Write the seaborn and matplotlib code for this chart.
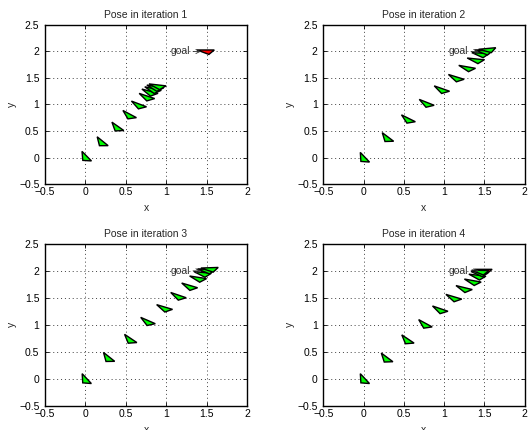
import numpy as np
import matplotlib
matplotlib.use("Agg")
import matplotlib.pyplot as plt
import seaborn as sns

# ---- data: robot poses (x, y, heading in degrees) per iteration ----
it1_x = [0.0, 0.20, 0.39, 0.54, 0.66, 0.76, 0.80, 0.84, 0.87, 0.90]
it1_y = [0.0, 0.28, 0.56, 0.79, 0.98, 1.13, 1.22, 1.27, 1.31, 1.34]
it1_th = [-57, -51, -47, -39, -30, -27, -22, -18, -14, -10]

it2_x = [0.0, 0.29, 0.55, 0.78, 0.97, 1.15, 1.29, 1.40, 1.46, 1.51, 1.55]
it2_y = [-0.02, 0.36, 0.71, 1.01, 1.27, 1.49, 1.68, 1.83, 1.94, 1.99, 2.03]
it2_th = [-58, -49, -37, -31, -28, -25, -15, -9, -5, 0, 8]

it3_x = [0.0, 0.28, 0.55, 0.77, 0.98, 1.15, 1.29, 1.40, 1.46, 1.51, 1.55]
it3_y = [-0.02, 0.38, 0.72, 1.05, 1.30, 1.52, 1.70, 1.85, 1.94, 2.00, 2.03]
it3_th = [-58, -50, -45, -33, -24, -27, -24, -13, -8, -3, 3]

it4_x = [0.0, 0.28, 0.54, 0.76, 0.95, 1.12, 1.25, 1.36, 1.42, 1.45, 1.46]
it4_y = [-0.02, 0.37, 0.71, 1.00, 1.27, 1.49, 1.66, 1.79, 1.89, 1.95, 1.98]
it4_th = [-58, -48, -45, -39, -27, -24, -20, -15, -10, -5, -2]

goal_x, goal_y, goal_th = 1.5, 2.0, 0.0

titles = ["Pose in iteration 1", "Pose in iteration 2",
          "Pose in iteration 3", "Pose in iteration 4"]
xticks = [-0.5, 0, 0.5, 1, 1.5, 2]
yticks = [-0.5, 0, 0.5, 1, 1.5, 2, 2.5]

# robot triangle shape in local frame (data units)
tri_local = np.array([[-0.12, 0.028], [0.095, 0.028], [0.028, -0.056]])

sns.set_theme(style="white")
plt.rcParams['font.family'] = ['Liberation Sans', 'DejaVu Sans']

fig = plt.figure(figsize=(5.29, 4.30), dpi=100)
positions = [
    [0.085, 0.572, 0.382, 0.370],
    [0.611, 0.572, 0.381, 0.370],
    [0.085, 0.056, 0.382, 0.377],
    [0.611, 0.056, 0.381, 0.377],
]
iters = [(it1_x, it1_y, it1_th), (it2_x, it2_y, it2_th),
         (it3_x, it3_y, it3_th), (it4_x, it4_y, it4_th)]


def triangle(ax, x, y, th, color, z):
    t = np.deg2rad(th)
    R = np.array([[np.cos(t), -np.sin(t)], [np.sin(t), np.cos(t)]])
    pts = tri_local @ R.T + np.array([x, y])
    ax.fill(pts[:, 0], pts[:, 1], facecolor=color, edgecolor='black',
            linewidth=1.0, zorder=z, joinstyle='miter')


for i, (pos, (xs, ys, ths)) in enumerate(zip(positions, iters)):
    ax = fig.add_axes(pos)
    ax.set_xlim(-0.5, 2)
    ax.set_ylim(-0.5, 2.5)
    ax.set_xticks(xticks)
    ax.set_yticks(yticks)
    ax.set_xticklabels([f"{v:g}".replace("-", "\u2212") for v in xticks])
    ax.set_yticklabels([f"{v:g}".replace("-", "\u2212") for v in yticks])
    ax.grid(True, linestyle=(0, (1, 3)), color='0.25', linewidth=0.7)
    ax.set_axisbelow(True)
    for s in ax.spines.values():
        s.set_color('black')
        s.set_linewidth(1.0)
        s.set_visible(True)
    ax.tick_params(direction='in', length=3, width=0.6, labelsize=7.5,
                   top=True, right=True, bottom=True, left=True, pad=2,
                   colors='black')
    ax.tick_params(axis='y', pad=4)
    ax.set_title(titles[i], fontsize=7.5, pad=5)
    ax.set_xlabel('x', fontsize=7.5)
    ax.set_ylabel('y', fontsize=7.5)
    ax.xaxis.set_label_coords(0.5, -0.12)
    ax.yaxis.set_label_coords(-0.14, 0.5)

    triangle(ax, goal_x, goal_y, goal_th, '#ff0000', 3)
    for k, (x, y, th) in enumerate(zip(xs, ys, ths)):
        triangle(ax, x, y, th, '#00ff00', 4 + k * 0.01)
    ax.annotate('goal', xy=(1.43, 2.0), xytext=(1.05, 2.0),
                fontsize=7.5, va='center', ha='left', color='0.2',
                arrowprops=dict(arrowstyle='->', lw=0.6, color='0.2',
                                shrinkA=0, shrinkB=0), zorder=5)

fig.savefig('out.png', dpi=100)
